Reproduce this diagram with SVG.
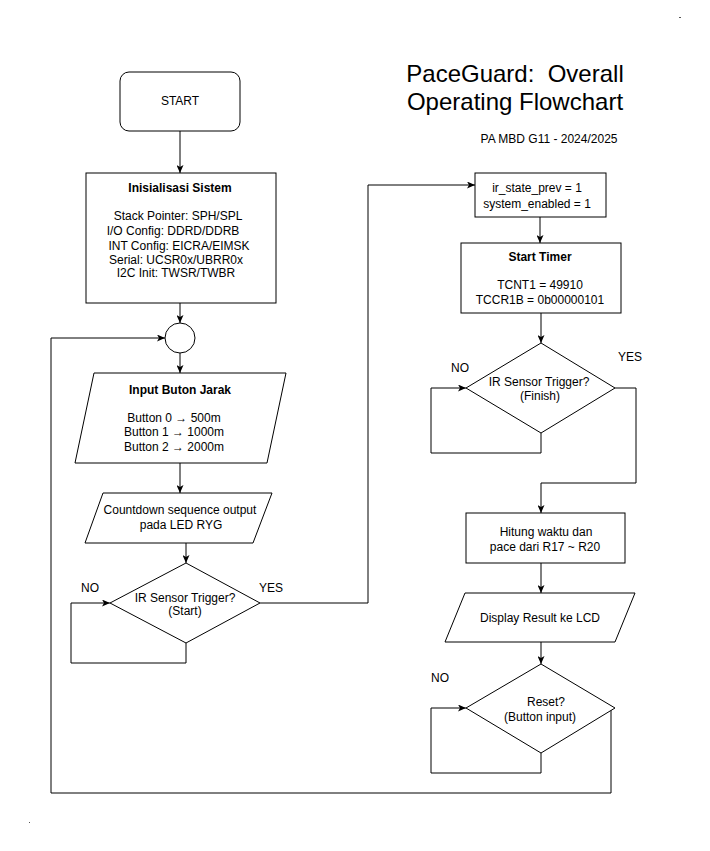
<svg xmlns="http://www.w3.org/2000/svg" width="710" height="851" viewBox="0 0 710 851">
<defs>
<marker id="arr" viewBox="0 0 8 7" refX="8" refY="3.5" markerWidth="8" markerHeight="7" markerUnits="userSpaceOnUse" orient="auto">
<path d="M0,0 L8,3.5 L0,7 L2,3.5 Z" fill="#000"/>
</marker>
</defs>
<style>
.s{fill:#fff;stroke:#000;stroke-width:1}
.t{font-family:"Liberation Sans",Arial,sans-serif;font-size:12px;fill:#000;text-anchor:middle}
.b{font-weight:bold}
.c{fill:none;stroke:#000;stroke-width:1}
.a{marker-end:url(#arr)}
</style>
<rect width="710" height="851" fill="#fff"/>

<g id="title">
<text class="t" x="515" y="82" style="font-size:24px" xml:space="preserve">PaceGuard:  Overall</text>
<text class="t" x="515" y="110" style="font-size:24px">Operating Flowchart</text>
<text class="t" x="549" y="143">PA MBD G11 - 2024/2025</text>
</g>

<g id="connectors">
<path class="c a" d="M180,131 V173"/>
<path class="c a" d="M180,303 V323"/>
<path class="c a" d="M180,353 V373"/>
<path class="c a" d="M180,463 V493"/>
<path class="c a" d="M186,543 V563"/>
<path class="c a" d="M186,643 V663 H71 V603 H110"/>
<path class="c a" d="M260,603 H368 V185 H475"/>
<path class="c a" d="M540,217 V243"/>
<path class="c a" d="M541,313 V343"/>
<path class="c a" d="M541,433 V453 H431 V388 H466"/>
<path class="c a" d="M615,388 H636 V483 H541 V513"/>
<path class="c a" d="M541,563 V593"/>
<path class="c a" d="M541,642 V664"/>
<path class="c a" d="M541,753 V773 H431 V708 H466"/>
<path class="c a" d="M611,710 V793 H51 V338 H165"/>
</g>

<g id="start">
<rect class="s" x="120" y="72" width="120" height="59" rx="9"/>
<text class="t" x="180" y="105">START</text>
</g>

<g id="init">
<rect class="s" x="86" y="173" width="190" height="130"/>
<text class="t b" x="180" y="192">Inisialisasi Sistem</text>
<text class="t" x="178" y="220">Stack Pointer: SPH/SPL</text>
<text class="t" x="173" y="235">I/O Config: DDRD/DDRB</text>
<text class="t" x="179" y="250">INT Config: EICRA/EIMSK</text>
<text class="t" x="176" y="264">Serial: UCSR0x/UBRR0x</text>
<text class="t" x="176" y="277">I2C Init: TWSR/TWBR</text>
</g>

<g id="junction">
<circle class="s" cx="180" cy="338" r="15"/>
</g>

<g id="input">
<polygon class="s" points="94,373 286,373 267,463 75,463"/>
<text class="t b" x="180" y="394">Input Buton Jarak</text>
<text class="t" x="174" y="422">Button 0 → 500m</text>
<text class="t" x="174" y="436">Button 1 → 1000m</text>
<text class="t" x="174" y="451">Button 2 → 2000m</text>
</g>

<g id="countdown">
<polygon class="s" points="103,493 272,493 253,543 85,543"/>
<text class="t" x="180" y="514">Countdown sequence output</text>
<text class="t" x="181" y="529">pada LED RYG</text>
</g>

<g id="ir-start">
<polygon class="s" points="186,563 260,603 186,643 110,603"/>
<text class="t" x="185" y="602">IR Sensor Trigger?</text>
<text class="t" x="185" y="615">(Start)</text>
<text class="t" x="90" y="592">NO</text>
<text class="t" x="271" y="592">YES</text>
</g>

<g id="state">
<rect class="s" x="475" y="173" width="131" height="44"/>
<text class="t" x="537" y="192">ir_state_prev = 1</text>
<text class="t" x="537" y="208">system_enabled = 1</text>
</g>

<g id="timer">
<rect class="s" x="461" y="243" width="160" height="70"/>
<text class="t b" x="540" y="261">Start Timer</text>
<text class="t" x="540" y="289">TCNT1 = 49910</text>
<text class="t" x="540" y="304">TCCR1B = 0b00000101</text>
</g>

<g id="ir-finish">
<polygon class="s" points="541,343 615,388 541,433 466,388"/>
<text class="t" x="539" y="386">IR Sensor Trigger?</text>
<text class="t" x="540" y="400">(Finish)</text>
<text class="t" x="460" y="372">NO</text>
<text class="t" x="630" y="361">YES</text>
</g>

<g id="compute">
<rect class="s" x="466" y="513" width="159" height="50"/>
<text class="t" x="546" y="536">Hitung waktu dan</text>
<text class="t" x="545" y="551">pace dari R17 ~ R20</text>
</g>

<g id="display">
<polygon class="s" points="465,593 635,593 615,642 445,642"/>
<text class="t" x="540" y="622">Display Result ke LCD</text>
</g>

<g id="reset">
<polygon class="s" points="541,664 615,708 541,753 466,708"/>
<text class="t" x="546" y="706">Reset?</text>
<text class="t" x="540" y="721">(Button input)</text>
<text class="t" x="440" y="682">NO</text>
</g>

<rect x="679" y="17" width="2" height="1" fill="#555"/>
<rect x="29" y="822" width="1" height="1" fill="#555"/>
</svg>
